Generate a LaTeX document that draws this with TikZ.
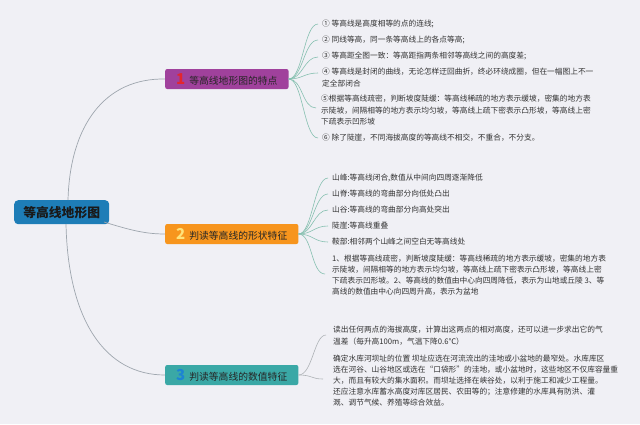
\documentclass[tikz,border=0pt]{standalone}
\usepackage{fontspec}
\setmainfont{Noto Sans CJK SC}
\definecolor{bgc}{HTML}{F0F0F5}
\definecolor{rootc}{HTML}{1E7DB7}
\definecolor{purc}{HTML}{A0419C}
\definecolor{orac}{HTML}{F7951D}
\definecolor{teac}{HTML}{3AA8A6}
\definecolor{leafc}{HTML}{333333}
\definecolor{rlinec}{HTML}{9EA6AE}
\definecolor{glinec}{HTML}{86C0B0}
\definecolor{blinec}{HTML}{AEB2B6}
\definecolor{numa}{HTML}{E3262E}
\definecolor{numb}{HTML}{FFE27A}
\definecolor{numc}{HTML}{1D84D2}
\tikzset{
  leaf/.style={anchor=base west, inner sep=0pt, text=leafc, align=left,
    font=\fontsize{7.7}{11.6}\selectfont},
  branchbox/.style={anchor=west, rounded corners=2pt, minimum height=20pt,
    inner xsep=11pt, inner ysep=0pt, text=black!85,
    font=\fontsize{9.8}{11}\selectfont},
  rootline/.style={draw=rlinec, line width=0.7pt},
  fanline/.style={draw=glinec, line width=0.6pt},
  fanlineb/.style={draw=blinec, line width=0.6pt}
}
\newcommand{\bignum}[2]{{\fontsize{15}{15}\bfseries\color{#1}#2}\hspace{4pt}}
\begin{document}
\begin{tikzpicture}[x=1pt,y=-1pt]
\fill[bgc] (0,0) rectangle (640,424);
\useasboundingbox (0,0) rectangle (640,424);

% root
\node[anchor=north west, fill=rootc, rounded corners=4pt, minimum width=95pt,
  minimum height=24pt, inner sep=0pt, text=black!90,
  font=\fontsize{12.8}{14}\bfseries] (root) at (14,200) {等高线地形图};

% branch boxes
\node[branchbox, fill=purc] (b1) at (165,79) {\bignum{numa}{1}等高线地形图的特点};
\node[branchbox, fill=orac] (b2) at (165,234) {\bignum{numb}{2}判读等高线的形状特征};
\node[branchbox, fill=teac] (b3) at (165,375) {\bignum{numc}{3}判读等高线的数值特征};

% root connectors
\coordinate (rt) at (68,200);
\coordinate (rb) at (66,224);
\coordinate (rr) at (104,222);
\draw[rootline] (rt) .. controls (70,125) and (105,78) .. (b1.west);
\draw[rootline] (rr) .. controls (130,230) and (145,234) .. (b2.west);
\draw[rootline] (rb) .. controls (68,320) and (105,375) .. (b3.west);

% branch 1 leaves
\node[leaf] (l11) at (322,26.8) {① 等高线是高度相等的点的连线;};
\node[leaf] (l12) at (322,42.8) {② 同线等高，同一条等高线上的各点等高;};
\node[leaf] (l13) at (322,58.8) {③ 等高距全图一致：等高距指两条相邻等高线之间的高度差;};
\node[leaf, font=\fontsize{7.7}{12.6}\selectfont] (l14) at (322,86.6) {④ 等高线是封闭的曲线，无论怎样迂回曲折，终必环绕成圈，但在一幅图上不一\\定全部闭合};
\node[leaf, font=\fontsize{7.7}{11.5}\selectfont] (l15) at (321,124.8) {⑤根据等高线疏密，判断坡度陡缓：等高线稀疏的地方表示缓坡，密集的地方表\\示陡坡，间隔相等的地方表示均匀坡，等高线上疏下密表示凸形坡，等高线上密\\下疏表示凹形坡};
\node[leaf] (l16) at (322,140.8) {⑥ 除了陡崖，不同海拔高度的等高线不相交，不重合，不分支。};

\coordinate (e11) at (318,24);
\coordinate (e12) at (318,40);
\coordinate (e13) at (318,57);
\coordinate (e14) at (318,73);
\coordinate (e15) at (316,108);
\coordinate (e16) at (318,138);
\foreach \e in {e11,e12,e13,e14,e15,e16}
  \draw[fanline] (b1.east) .. controls +(14,0) and +(-14,0) .. (\e);

% branch 2 leaves
\node[leaf] (l21) at (332,180.8) {山峰:等高线闭合,数值从中间向四周逐渐降低};
\node[leaf] (l22) at (332,196.8) {山脊:等高线的弯曲部分向低处凸出};
\node[leaf] (l23) at (332,212.8) {山谷:等高线的弯曲部分向高处突出};
\node[leaf] (l24) at (332,228.8) {陡崖:等高线重叠};
\node[leaf] (l25) at (332,244.8) {鞍部:相邻两个山峰之间空白无等高线处};
\node[leaf, font=\fontsize{7.7}{11}\selectfont] (l26) at (332,294.8) {1、根据等高线疏密，判断坡度陡缓：等高线稀疏的地方表示缓坡，密集的地方表\\示陡坡，间隔相等的地方表示均匀坡，等高线上疏下密表示凸形坡，等高线上密\\下疏表示凹形坡。2、等高线的数值由中心向四周降低，表示为山地或丘陵 3、等\\高线的数值由中心向四周升高，表示为盆地};

\coordinate (e21) at (328,178);
\coordinate (e22) at (328,194);
\coordinate (e23) at (328,210);
\coordinate (e24) at (328,226);
\coordinate (e25) at (328,242);
\coordinate (e26) at (325,274);
\foreach \e in {e21,e22,e23,e24,e25,e26}
  \draw[fanline] (b2.east) .. controls +(14,0) and +(-14,0) .. (\e);

% branch 3 leaves
\node[leaf, font=\fontsize{7.7}{12}\selectfont] (l31) at (333,344.8) {读出任何两点的海拔高度，计算出这两点的相对高度，还可以进一步求出它的气\\温差（每升高100m，气温下降0.6℃）};
\node[leaf, font=\fontsize{7.7}{11}\selectfont] (l32) at (333,405.8) {确定水库河坝址的位置 坝址应选在河流流出的洼地或小盆地的最窄处。水库库区\\选在河谷、山谷地区或选在“口袋形”的洼地，或小盆地时，这些地区不仅库容量重\\大，而且有较大的集水面积。而坝址选择在峡谷处，以利于施工和减少工程量。\\还应注意水库蓄水高度对库区居民、农田等的；注意修建的水库具有防洪、灌\\溉、调节气候、养殖等综合效益。};

\coordinate (e31) at (326,335);
\coordinate (e32) at (323,379);
\foreach \e in {e31,e32}
  \draw[fanlineb] (b3.east) .. controls +(14,0) and +(-12,0) .. (\e);
\end{tikzpicture}
\end{document}
